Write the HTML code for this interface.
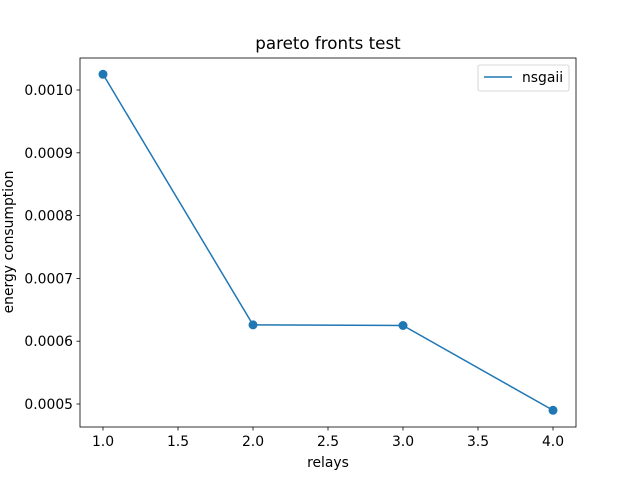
<!DOCTYPE html>
<html><head><meta charset="utf-8"><style>
body{margin:0;background:#fff;}
svg text{font-family:"DejaVu Sans","Liberation Sans",sans-serif;fill:#000;}
</style></head><body>
<svg id="chart" width="640" height="480" xmlns="http://www.w3.org/2000/svg">
<rect width="640" height="480" fill="#fff"/>
<g id="plot"></g>
<rect x="80" y="58" width="496" height="369" fill="none" stroke="#000" stroke-width="0.8"/>
<text x="328" y="49" font-size="16.7" text-anchor="middle">pareto fronts test</text>
<text x="328" y="467" font-size="13.9" text-anchor="middle">relays</text>
<text transform="translate(13,242) rotate(-90)" font-size="13.9" text-anchor="middle">energy consumption</text>
<g>
<rect x="478" y="65" width="91" height="26" rx="2" fill="#fff" stroke="#ccc" stroke-width="0.8"/>
<line x1="484" y1="77" x2="512" y2="77" stroke="#1f77b4" stroke-width="1.5"/>
<text x="522" y="82" font-size="13.9">nsgaii</text>
</g>
</svg>
<script>
const xValues=[1,2,3,4];
const yValues=[0.001025,0.000626,0.000625,0.000490];
const xTicks=[1.0,1.5,2.0,2.5,3.0,3.5,4.0];
const yTicks=[0.0005,0.0006,0.0007,0.0008,0.0009,0.0010];
const NS="http://www.w3.org/2000/svg";
const g=document.getElementById('plot');
function sx(v){return 103+(v-1)*150;}
function sy(v){return 404-(v-0.0005)*628000;}
function mk(t,a){const e=document.createElementNS(NS,t);for(const k in a)e.setAttribute(k,a[k]);g.appendChild(e);return e;}
xTicks.forEach(t=>{
  const l=mk('line',{x1:sx(t),x2:sx(t),y1:427,y2:430.5,stroke:'#000','stroke-width':0.8});
  
  
  const tx=mk('text',{x:sx(t),y:446,'font-size':13.9,'text-anchor':'middle'});
  tx.textContent=t.toFixed(1);
  
  
});
yTicks.forEach(t=>{
  const l=mk('line',{x1:76.5,x2:80,y1:sy(t),y2:sy(t),stroke:'#000','stroke-width':0.8});
  
  
  const tx=mk('text',{x:73,y:sy(t)+5,'font-size':13.9,'text-anchor':'end'});
  tx.textContent=t.toFixed(4);
  
  
});
const pts=xValues.map((x,i)=>sx(x)+','+sy(yValues[i])).join(' ');
const pl=mk('polyline',{points:pts,fill:'none',stroke:'#1f77b4','stroke-width':1.5});


xValues.forEach((x,i)=>{
  const c=mk('circle',{cx:sx(x),cy:sy(yValues[i]),r:4.5,fill:'#1f77b4'});
  
  
});
</script>
</body></html>
